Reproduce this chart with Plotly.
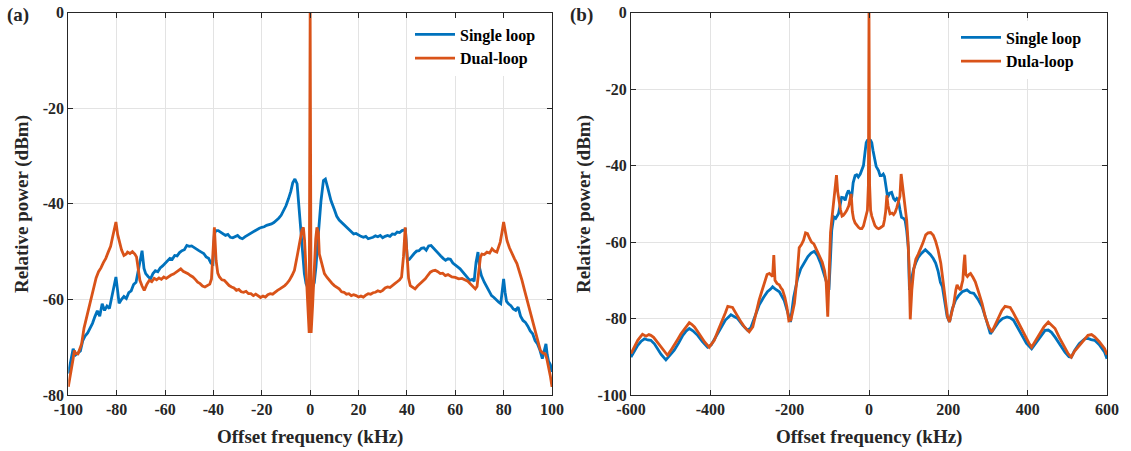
import plotly.graph_objects as go
from plotly.subplots import make_subplots

# (a) narrow span, offset frequency in kHz / relative power in dBm
a_single_x = [-100, -99, -98, -97, -96, -95, -94, -93, -92, -91, -90, -89, -88, -87, -86, -85, -84, -83, -82, -81,
              -80.3, -79.6, -79, -78, -77, -76, -75, -74, -73, -72, -71, -70.3, -69.5, -68.7, -68, -67, -66, -65,
              -64, -63, -62, -61, -60, -59, -58, -57, -56, -55, -54, -53, -52, -51, -50, -49, -48, -47, -46, -45,
              -44, -43, -42, -41, -40.2, -39.6, -39, -38, -37, -36, -35, -34, -33, -32, -31, -30, -29, -28, -27,
              -26, -25, -24, -23, -22, -21, -20, -19, -18, -17, -16, -15, -14, -13, -12, -11, -10, -9, -8, -7.2,
              -6.3, -5.4, -4.5, -3.4, -2.4, -1.7, -1, 0, 1, 1.7, 2.4, 3.4, 4.5, 5.5, 6.3, 7.2, 8.6, 10, 11, 12, 13,
              14, 15, 16, 17, 18, 19, 20, 21, 22, 23, 24, 25, 26, 27, 28, 29, 30, 31, 32, 33, 34, 35, 36, 37, 38,
              39.4, 40.2, 41, 42, 43, 44, 45, 46, 47, 48, 49, 50, 51, 52, 53, 54, 55, 56, 57, 58, 59, 60, 61, 62,
              63, 64, 65, 66, 67, 67.8, 68.6, 69.4, 70.1, 70.8, 72, 73, 74, 75, 76, 77, 78, 78.8, 79.5, 80, 80.6,
              81.2, 82, 83, 84, 85, 86, 87, 88, 89, 90, 91, 92, 93, 94, 95, 96, 97, 97.5, 98, 98.6, 99.3, 100]
a_single_y = [-75.5, -73.0, -70.3, -71.6, -71.2, -70.8, -68.6, -67.6, -67.0, -66.0, -65.0, -63.6, -62.4, -63.5,
              -60.9, -62.3, -61.4, -61.9, -59.5, -57.6, -55.3, -58.2, -60.8, -60.0, -59.4, -59.8, -58.6, -58.2,
              -56.9, -56.4, -54.0, -52.0, -49.8, -53.5, -54.6, -55.2, -55.7, -54.6, -54.0, -54.2, -53.4, -53.0,
              -52.4, -52.0, -51.4, -51.6, -50.8, -50.9, -50.2, -49.8, -49.6, -48.7, -48.9, -48.8, -49.2, -49.4,
              -49.8, -50.1, -50.4, -51.1, -51.4, -52.4, -52.6, -46.3, -45.6, -45.6, -46.0, -46.3, -46.6, -46.4,
              -47.0, -47.1, -46.8, -46.6, -47.1, -47.3, -46.9, -46.6, -46.2, -45.9, -45.6, -45.3, -45.1, -44.9,
              -44.8, -44.5, -44.4, -44.2, -43.9, -43.5, -43.0, -42.4, -41.5, -40.4, -39.0, -37.4, -35.6, -34.8,
              -35.8, -41.4, -49.1, -54.6, -56.7, -57.5, -58.0, -57.5, -56.5, -53.2, -46.3, -39.3, -35.1, -34.8,
              -36.5, -39.3, -41.2, -42.6, -43.4, -43.9, -44.2, -44.9, -45.4, -45.9, -46.3, -46.2, -46.6, -46.8,
              -47.0, -46.8, -47.3, -47.2, -47.0, -46.7, -46.9, -46.6, -47.1, -46.8, -46.6, -46.8, -46.3, -46.4,
              -45.9, -46.0, -45.6, -45.4, -51.8, -51.6, -50.9, -50.4, -49.9, -49.8, -49.3, -49.2, -49.7, -48.8,
              -48.7, -49.3, -49.9, -50.3, -50.9, -51.4, -51.8, -51.5, -51.6, -52.4, -52.9, -53.2, -53.6, -54.2,
              -55.0, -55.4, -56.0, -55.8, -56.2, -52.2, -50.1, -53.5, -55.0, -56.4, -57.4, -58.3, -59.2, -59.6,
              -60.2, -60.6, -60.9, -57.5, -55.7, -58.5, -60.4, -60.9, -61.3, -62.0, -62.3, -61.6, -63.5, -64.4,
              -64.8, -65.6, -66.6, -67.2, -68.6, -69.3, -70.6, -72.4, -70.0, -69.3, -71.5, -73.0, -73.6, -75.2]

a_dual_x = [-100, -99.5, -99, -98, -97.5, -97, -96, -95, -94.5, -93.5, -92.5, -91.5, -90.5, -89.5, -88.5, -87.5,
            -86.5, -85.5, -84.5, -83.5, -82.5, -81.7, -81, -80.3, -79.6, -78.9, -78, -77, -76, -75.5, -74.5, -73.5,
            -72.5, -71.8, -71, -70.4, -69.5, -68.6, -67.5, -66.5, -65.5, -64.5, -63.5, -62.5, -61.5, -60.5, -59.5,
            -58.5, -57.5, -56.5, -55.5, -54.5, -53.5, -52.5, -51.5, -50.5, -49.5, -48.5, -47.5, -46.5, -45.5, -44.5,
            -43.5, -42.5, -41.5, -40.8, -40.2, -39.6, -38.9, -38.2, -37.5, -36.5, -35.5, -34.5, -33.5, -32.5, -31.5,
            -30.5, -29.5, -28.5, -27.5, -26.5, -25.5, -24.5, -23.5, -22.5, -21.5, -20.5, -19.5, -18.5, -17.5, -16.5,
            -15.5, -14.5, -13.5, -12.5, -11.5, -10.5, -9.5, -8.6, -7.5, -6.5, -5.2, -4.1, -3.4, -2.8, -2.3, -1.7,
            -1.0, -0.4, 0, 0.4, 1.0, 1.7, 2.3, 2.8, 3.4, 3.8, 5, 5.9, 7, 7.9, 9, 10, 11, 12, 13, 14, 15, 16, 17, 18,
            19, 20, 21, 22, 23, 24, 25, 26, 27, 28, 29, 30, 31, 32, 33, 34, 35, 36, 37, 37.8, 38.6, 39.3, 40, 40.7,
            41.4, 42.4, 43.4, 44.4, 45.5, 46.5, 47.6, 48.6, 49.7, 50.7, 51.7, 52.8, 53.8, 54.8, 55.9, 57, 58.6, 60,
            61.4, 62.8, 64.1, 65.2, 66.2, 67.3, 68.3, 69, 69.7, 70.4, 71, 72, 73.1, 74.2, 75.2, 76.2, 77.2, 78, 78.6,
            79.3, 80, 80.7, 81.4, 82.4, 83.4, 84.5, 85.5, 86.5, 87.6, 88.6, 89.7, 90.7, 91.7, 92.8, 93.8, 94.5,
            95.2, 96.2, 97.2, 97.9, 98.6, 99.3, 100]
a_dual_y = [-78.3, -77.0, -75.5, -72.4, -70.7, -71.3, -71.4, -70.0, -69.3, -66.0, -63.8, -62.0, -59.6, -57.8, -55.5,
            -54.2, -53.4, -52.3, -51.4, -50.1, -48.9, -47.0, -45.5, -43.8, -46.4, -48.0, -49.6, -50.8, -50.5, -50.1,
            -50.4, -50.0, -50.5, -51.1, -53.5, -56.0, -57.2, -58.1, -56.8, -56.0, -56.3, -55.6, -55.9, -55.5, -55.8,
            -55.3, -55.6, -55.2, -54.9, -54.7, -54.3, -54.0, -53.6, -54.1, -54.3, -54.6, -55.0, -55.3, -55.8, -56.4,
            -56.7, -57.2, -57.4, -57.1, -56.8, -55.7, -51.0, -44.9, -51.8, -54.5, -55.3, -55.9, -56.0, -56.6, -57.1,
            -57.4, -57.6, -58.1, -57.9, -58.4, -58.5, -58.3, -58.8, -58.8, -59.2, -58.9, -59.2, -59.6, -59.3, -59.5,
            -59.0, -58.8, -58.9, -58.4, -58.1, -57.8, -57.5, -57.1, -56.6, -56.0, -55.0, -53.9, -50.5, -47.0, -45.5,
            -44.9, -47.7, -53.9, -61.6, -67.0, 0, -67.0, -61.4, -53.5, -47.4, -44.9, -46.0, -50.5, -53.2, -54.6,
            -55.4, -56.0, -56.6, -57.1, -57.4, -57.8, -58.4, -58.5, -58.9, -58.8, -59.2, -59.0, -59.2, -59.5, -59.3,
            -59.5, -59.1, -58.8, -58.9, -58.6, -58.5, -58.2, -58.4, -58.1, -57.6, -57.4, -57.5, -57.0, -56.7, -56.3,
            -55.9, -55.3, -51.0, -44.9, -51.5, -55.6, -57.1, -57.4, -57.8, -57.2, -56.7, -56.3, -55.7, -55.0, -54.3,
            -54.0, -53.9, -54.2, -54.6, -54.5, -55.0, -54.8, -55.3, -55.4, -55.7, -55.6, -56.0, -56.2, -56.7, -57.2,
            -57.8, -57.3, -53.9, -51.2, -50.5, -50.6, -50.1, -50.3, -49.4, -49.9, -50.1, -49.0, -48.0, -46.0, -43.8,
            -45.8, -47.7, -49.2, -50.5, -51.5, -52.5, -54.0, -56.0, -58.0, -60.2, -62.0, -63.7, -65.8, -67.9, -69.5,
            -70.7, -71.2, -71.4, -72.5, -74.1, -76.0, -78.3]

# (b) wide span
b_single_x = [-600, -592, -583, -575, -566, -558, -550, -541, -533, -524, -512, -503, -491, -480, -470, -462, -453,
              -444, -432, -420, -407, -398, -385, -373, -362, -348, -340, -331, -318, -306, -298, -288, -277, -266,
              -256, -248, -243, -235, -226, -214, -205, -198, -190, -180, -172, -163, -154, -146, -138, -130, -122,
              -113, -105, -101, -97, -94, -89, -84, -77, -72, -69, -64, -60, -56, -52, -47, -44, -40, -35, -31, -27,
              -22, -18, -14, -10, -7, -4, 0, 4, 7, 10, 13, 18, 24, 28, 32, 36, 39, 43, 47, 52, 57, 62, 66, 70, 74,
              78, 82, 87, 91, 95, 99, 102, 106, 112, 118, 124, 130, 136, 142, 148, 155, 162, 168, 174, 180, 185, 192,
              197, 203, 210, 218, 226, 235, 241, 247, 255, 264, 275, 285, 296, 306, 316, 327, 337, 348, 356, 364,
              374, 385, 397, 410, 420, 432, 444, 452, 460, 470, 482, 494, 504, 510, 518, 530, 544, 552, 560, 569,
              580, 594, 600]
b_single_y = [-90.1, -88.6, -87.0, -86.0, -85.3, -85.6, -85.7, -86.6, -87.9, -89.4, -90.8, -89.6, -88.3, -86.4,
              -84.5, -83.4, -82.6, -83.2, -84.4, -86.0, -87.5, -86.9, -84.6, -82.2, -80.4, -79.0, -79.4, -80.0,
              -81.8, -83.1, -82.4, -79.6, -76.5, -74.5, -73.0, -72.3, -71.7, -72.4, -73.0, -75.2, -78.2, -80.9,
              -74.5, -69.5, -67.0, -65.5, -63.8, -62.9, -62.4, -63.5, -65.5, -68.5, -71.0, -72.5, -64.0, -57.0,
              -53.4, -53.8, -52.6, -50.0, -48.3, -48.4, -49.1, -47.5, -46.5, -47.6, -48.5, -44.5, -42.6, -42.4,
              -43.0, -42.2, -41.3, -40.0, -36.5, -34.0, -33.4, -33.2, -33.4, -34.0, -36.0, -37.8, -40.2, -41.3,
              -42.6, -42.6, -42.2, -42.8, -46.0, -48.3, -47.2, -47.0, -48.6, -49.1, -48.6, -49.1, -51.5, -53.5,
              -53.8, -54.3, -57.0, -61.3, -72.5, -70.0, -67.2, -65.4, -64.0, -63.2, -62.5, -62.0, -62.6, -63.3,
              -64.3, -65.5, -67.5, -70.5, -71.7, -76.0, -79.5, -80.9, -77.5, -75.2, -74.0, -73.0, -72.8, -72.5,
              -73.2, -73.4, -75.0, -76.9, -80.5, -84.0, -82.5, -80.9, -80.0, -79.6, -79.8, -80.4, -82.2, -84.4,
              -86.5, -87.9, -86.5, -84.5, -83.1, -83.0, -83.6, -85.0, -87.0, -88.8, -90.0, -90.1, -88.4, -86.6,
              -85.3, -85.2, -85.5, -85.7, -86.8, -88.8, -90.5]

b_dual_x = [-600, -592, -583, -575, -571, -562, -555, -550, -543, -537, -528, -520, -508, -500, -491, -482, -474,
            -464, -453, -447, -440, -432, -424, -414, -403, -397, -390, -380, -369, -362, -356, -350, -344, -338,
            -331, -322, -314, -307, -302, -293, -285, -277, -270, -264, -257, -251, -246, -243, -240, -237, -232,
            -226, -222, -218, -212, -207, -202, -197, -192, -188, -183, -179, -176, -170, -165, -160, -155, -150,
            -145, -139, -131, -124, -118, -112, -108, -104, -101, -97, -94, -90, -86, -82, -79, -76, -72, -68, -65,
            -61, -56, -51, -48, -45, -42, -39, -35, -31, -26, -22, -18, -14, -10, -7, -4, -1.5, 0, 1.5, 4, 7, 11, 15,
            20, 24, 28, 32, 36, 39, 42, 45, 48, 53, 58, 62, 66, 70, 74, 78, 81, 84, 87, 91, 95, 98, 101, 104, 108,
            113, 118, 124, 130, 136, 143, 149, 155.5, 162, 168, 174, 181, 187, 193, 198, 203, 208, 214, 219, 222,
            226, 231, 234, 236.5, 239, 241.5, 244, 248, 252, 256, 262, 268, 276, 285, 293, 302, 310, 318, 327, 335,
            343, 350, 356, 364, 373, 384, 393.5, 403, 410, 420, 431, 441, 452, 460, 469, 480, 494, 502, 510, 518,
            527, 540, 552, 561, 569, 580, 594, 600]
b_dual_y = [-89.2, -87.5, -85.7, -84.6, -84.1, -84.6, -84.2, -84.4, -84.9, -85.7, -86.9, -87.9, -89.6, -88.4, -87.0,
            -85.4, -84.0, -82.5, -81.1, -81.5, -82.2, -83.4, -84.8, -86.2, -87.5, -86.8, -85.7, -83.0, -80.4, -78.5,
            -76.8, -76.9, -77.1, -78.2, -79.6, -81.0, -82.2, -83.1, -83.5, -82.2, -78.5, -75.2, -72.8, -70.8, -68.5,
            -68.2, -68.8, -69.0, -63.4, -70.0, -70.8, -71.2, -72.0, -72.5, -74.5, -77.0, -80.6, -80.4, -78.0, -76.0,
            -71.0, -65.0, -61.5, -60.6, -59.5, -57.6, -57.8, -59.0, -60.0, -60.5, -62.2, -63.8, -65.2, -67.5, -70.5,
            -79.5, -68.0, -57.5, -54.3, -50.5, -47.4, -42.5, -46.8, -49.2, -51.5, -53.2, -53.0, -52.5, -51.7, -50.5,
            -48.3, -47.4, -52.0, -53.9, -55.0, -55.7, -56.2, -56.5, -56.5, -55.8, -54.3, -53.0, -51.7, -45.0, 0,
            -45.0, -51.7, -53.2, -54.3, -55.7, -56.3, -56.5, -56.3, -56.0, -55.7, -54.2, -52.0, -47.8, -50.5, -52.6,
            -52.4, -52.8, -52.2, -51.0, -49.1, -48.0, -42.2, -45.0, -47.4, -51.0, -54.3, -59.0, -66.0, -80.2, -72.5,
            -67.0, -64.5, -63.2, -61.8, -60.2, -58.1, -57.6, -57.5, -58.2, -59.8, -62.0, -65.5, -70.5, -76.0, -79.5,
            -80.9, -79.0, -76.0, -72.5, -71.2, -72.0, -72.5, -71.0, -70.0, -66.0, -63.3, -68.5, -69.0, -68.5, -68.2,
            -69.2, -70.4, -73.0, -76.0, -79.5, -82.2, -83.5, -81.8, -79.6, -77.9, -76.8, -76.9, -77.1, -78.5, -80.4,
            -82.8, -84.8, -86.4, -87.5, -85.8, -83.9, -82.2, -80.9, -81.6, -82.6, -85.0, -87.9, -89.2, -90.1, -88.6,
            -87.5, -85.8, -84.4, -84.2, -84.8, -86.0, -87.9, -89.5]

a_xticks = [-100, -80, -60, -40, -20, 0, 20, 40, 60, 80, 100]
a_yticks = [-80, -60, -40, -20, 0]
b_xticks = [-600, -400, -200, 0, 200, 400, 600]
b_yticks = [-100, -80, -60, -40, -20, 0]

BLUE = "#0072BD"
ORANGE = "#D95319"
FONT = "Liberation Serif, Times New Roman, serif"
W, H = 1131, 451


def labels(vals):
    # plain hyphen for negatives, like the original figure
    return [str(v) for v in vals]


fig = make_subplots(rows=1, cols=2)

fig.add_trace(go.Scatter(x=a_single_x, y=a_single_y, mode="lines", name="Single loop",
                         line=dict(color=BLUE, width=2.8), legend="legend"), row=1, col=1)
fig.add_trace(go.Scatter(x=a_dual_x, y=a_dual_y, mode="lines", name="Dual-loop",
                         line=dict(color=ORANGE, width=2.8), legend="legend"), row=1, col=1)
fig.add_trace(go.Scatter(x=b_single_x, y=b_single_y, mode="lines", name="Single loop",
                         line=dict(color=BLUE, width=2.8), legend="legend2"), row=1, col=2)
fig.add_trace(go.Scatter(x=b_dual_x, y=b_dual_y, mode="lines", name="Dula-loop",
                         line=dict(color=ORANGE, width=2.8), legend="legend2"), row=1, col=2)

axis_style = dict(showline=True, mirror="ticks", linecolor="#262626", linewidth=1,
                  ticks="inside", ticklen=5, tickcolor="#262626", automargin=False,
                  showgrid=True, gridcolor="#E3E3E3", gridwidth=1, zeroline=False,
                  tickfont=dict(family=FONT, size=16, color="#262626", weight="bold"))

y0, y1 = 1 - 395 / H, 1 - 12.7 / H
fig.update_xaxes(axis_style)
fig.update_yaxes(axis_style)
fig.update_xaxes(range=[-100, 100], tickvals=a_xticks, ticktext=labels(a_xticks),
                 domain=[68.3 / W, 552 / W], row=1, col=1)
fig.update_yaxes(range=[-80, 0], tickvals=a_yticks, ticktext=labels(a_yticks),
                 domain=[y0, y1], row=1, col=1)
fig.update_xaxes(range=[-600, 600], tickvals=b_xticks, ticktext=labels(b_xticks),
                 domain=[631 / W, 1107 / W], row=1, col=2)
fig.update_yaxes(range=[-100, 0], tickvals=b_yticks, ticktext=labels(b_yticks),
                 domain=[y0, y1], row=1, col=2)

title_font = dict(family=FONT, size=19, color="#262626", weight="bold")
notes = [
    dict(text="Offset frequency (kHz)", x=310 / W, y=1 - 437 / H),
    dict(text="Offset frequency (kHz)", x=869 / W, y=1 - 437 / H),
    dict(text="Relative power (dBm)", x=22 / W, y=1 - 204 / H, textangle=-90),
    dict(text="Relative power (dBm)", x=584 / W, y=1 - 204 / H, textangle=-90),
    dict(text="(a)", x=18 / W, y=1 - 15 / H),
    dict(text="(b)", x=581 / W, y=1 - 15 / H),
]
for n in notes:
    fig.add_annotation(xref="paper", yref="paper", showarrow=False,
                       xanchor="center", yanchor="middle", font=title_font, **n)

legend_style = dict(bgcolor="white", borderwidth=0, xanchor="left", yanchor="top",
                    font=dict(family=FONT, size=16, color="black", weight="bold"),
                    tracegroupgap=0, itemwidth=40)

fig.update_layout(
    width=W, height=H,
    margin=dict(l=0, r=0, t=0, b=0),
    paper_bgcolor="white", plot_bgcolor="white",
    showlegend=True,
    legend=dict(x=410 / W, y=1 - 17.5 / H, **legend_style),
    legend2=dict(x=956 / W, y=1 - 20.5 / H, **legend_style),
)

fig.write_html("out.html", config={"displayModeBar": False},
               post_script="document.body.style.margin = '0';")
